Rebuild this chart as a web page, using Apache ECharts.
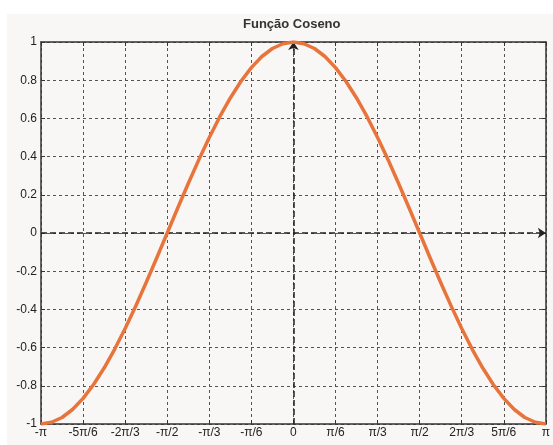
<!DOCTYPE html>
<html>
<head>
<meta charset="utf-8">
<script src="https://cdn.jsdelivr.net/npm/echarts@6/dist/echarts.min.js"></script>
<style>
html, body { margin: 0; padding: 0; background: #fff; }
#main { width: 553px; height: 445px; }
</style>
</head>
<body>
<div id="main"></div>
<script>
// x em unidades de pi/6 (passo pi/24), de -pi ate pi
var xVals = [-6, -5.75, -5.5, -5.25, -5, -4.75, -4.5, -4.25, -4, -3.75, -3.5, -3.25, -3,
	-2.75, -2.5, -2.25, -2, -1.75, -1.5, -1.25, -1, -0.75, -0.5, -0.25, 0,
	0.25, 0.5, 0.75, 1, 1.25, 1.5, 1.75, 2, 2.25, 2.5, 2.75, 3,
	3.25, 3.5, 3.75, 4, 4.25, 4.5, 4.75, 5, 5.25, 5.5, 5.75, 6];
// valores
var yVals = [-1, -0.991, -0.966, -0.924, -0.866, -0.793, -0.707, -0.609, -0.5, -0.383, -0.259, -0.131, 0,
	0.131, 0.259, 0.383, 0.5, 0.609, 0.707, 0.793, 0.866, 0.924, 0.966, 0.991, 1,
	0.991, 0.966, 0.924, 0.866, 0.793, 0.707, 0.609, 0.5, 0.383, 0.259, 0.131, 0,
	-0.131, -0.259, -0.383, -0.5, -0.609, -0.707, -0.793, -0.866, -0.924, -0.966, -0.991, -1];
var xLabels = ['-π', '-5π/6', '-2π/3', '-π/2', '-π/3', '-π/6', '0',
	'π/6', 'π/3', 'π/2', '2π/3', '5π/6', 'π'];
var yLabels = ['-1', '-0.8', '-0.6', '-0.4', '-0.2', '0', '0.2', '0.4', '0.6', '0.8', '1'];

var pts = [];
for (var i = 0; i < xVals.length; i++) {
	pts.push([xVals[i], yVals[i]]);
}

var myChart = echarts.init(document.getElementById('main'));

var gridDash = { color: '#555', width: 1, type: [3, 3] };
var txt = { color: '#222', fontSize: 12, fontFamily: 'Liberation Sans, Arial, sans-serif' };

myChart.setOption({
	animation: false,
	backgroundColor: '#fff',
	graphic: [{
		type: 'rect',
		z: -10,
		shape: { x: 7, y: 14, width: 546, height: 431 },
		style: { fill: '#f8f7f5' }
	}],
	title: {
		text: 'Função Coseno',
		left: 243,
		top: 18,
		padding: 0,
		textStyle: { color: '#333', fontSize: 13, fontWeight: 'bold', fontFamily: 'Liberation Sans, Arial, sans-serif' }
	},
	grid: {
		left: 41,
		top: 42,
		right: 4,
		bottom: 21
	},
	xAxis: [{
		type: 'value',
		min: -6,
		max: 6,
		interval: 1,
		axisLine: { onZero: false, lineStyle: { color: '#333', width: 1.5 } },
		axisTick: { inside: true, length: 4, lineStyle: { color: '#333' } },
		axisLabel: Object.assign({ margin: 3, formatter: function(v) { return xLabels[v + 6]; } }, txt),
		splitLine: { show: true, lineStyle: gridDash }
	}, {
		type: 'value',
		position: 'top',
		min: -6,
		max: 6,
		interval: 1,
		axisLine: { onZero: false, lineStyle: { color: '#333', width: 1.5 } },
		axisTick: { inside: true, length: 4, lineStyle: { color: '#333' } },
		axisLabel: { show: false },
		splitLine: { show: false }
	}],
	yAxis: [{
		type: 'value',
		min: -1,
		max: 1,
		interval: 0.2,
		axisLine: { onZero: false, lineStyle: { color: '#333', width: 1.5 } },
		axisTick: { inside: true, length: 4, lineStyle: { color: '#333' } },
		axisLabel: Object.assign({ margin: 4, formatter: function(v) { return yLabels[Math.round((v + 1) * 5)]; } }, txt),
		splitLine: { show: true, lineStyle: gridDash }
	}, {
		type: 'value',
		position: 'right',
		min: -1,
		max: 1,
		interval: 0.2,
		axisLine: { onZero: false, lineStyle: { color: '#333', width: 1.5 } },
		axisTick: { inside: true, length: 4, lineStyle: { color: '#333' } },
		axisLabel: { show: false },
		splitLine: { show: false }
	}],
	series: [{
		type: 'line',
		data: pts,
		smooth: false,
		showSymbol: false,
		lineStyle: { color: '#e8743b', width: 3.5, join: 'round' },
		z: 5,
		markLine: {
			silent: true,
			symbol: ['none', 'arrow'],
			symbolSize: [8, 8],
			label: { show: false },
			lineStyle: { color: '#222', width: 1.5, type: [6, 3] },
			data: [{ xAxis: 0 }, { yAxis: 0 }]
		}
	}]
});
</script>
</body>
</html>
